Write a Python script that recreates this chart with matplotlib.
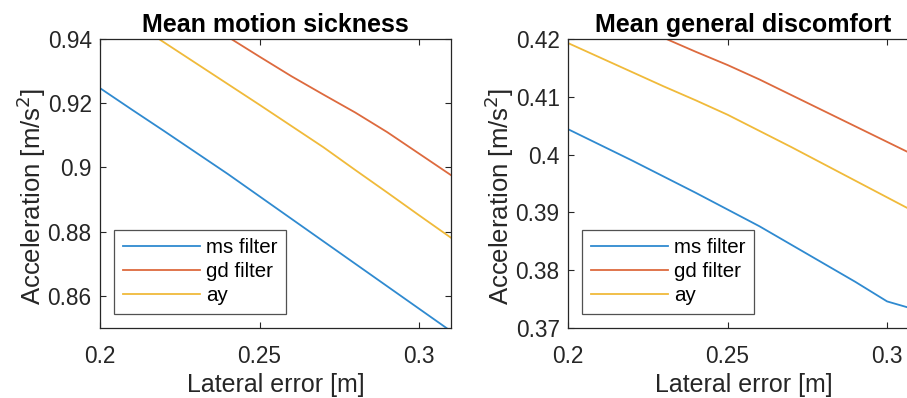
import numpy as np
import matplotlib.pyplot as plt
from matplotlib.ticker import FuncFormatter

# lateral error sample points [m]
lat_err = [0.20, 0.21, 0.22, 0.23, 0.24, 0.25, 0.26, 0.27, 0.28, 0.29, 0.30, 0.31]

# mean motion sickness panel
ms_sick = [0.9247, 0.9180, 0.9114, 0.9047, 0.8980, 0.8910, 0.8840, 0.8770, 0.8700, 0.8630, 0.8560, 0.8490]
gd_sick = [0.9650, 0.9590, 0.9530, 0.9469, 0.9407, 0.9345, 0.9284, 0.9227, 0.9171, 0.9110, 0.9043, 0.8976]
ay_sick = [0.9520, 0.9455, 0.9390, 0.9325, 0.9260, 0.9195, 0.9129, 0.9063, 0.8992, 0.8922, 0.8851, 0.8781]

# mean general discomfort panel
ms_disc = [0.4044, 0.4017, 0.3990, 0.3962, 0.3934, 0.3905, 0.3876, 0.3844, 0.3812, 0.3780, 0.3746, 0.3730]
gd_disc = [0.4272, 0.4249, 0.4226, 0.4202, 0.4178, 0.4155, 0.4130, 0.4103, 0.4076, 0.4049, 0.4022, 0.3995]
ay_disc = [0.4193, 0.4168, 0.4143, 0.4118, 0.4094, 0.4069, 0.4041, 0.4013, 0.3984, 0.3955, 0.3926, 0.3897]

series_names = ["ms filter", "gd filter", "ay"]
colors = ["#2F8AD0", "#DD6A3E", "#F0BA3A"]

x_ticks = [0.2, 0.25, 0.3]
sick_ticks = [0.86, 0.88, 0.90, 0.92, 0.94]
disc_ticks = [0.37, 0.38, 0.39, 0.40, 0.41, 0.42]

plt.rcParams["font.family"] = ["Liberation Sans", "DejaVu Sans"]
txt = "#262626"

fig = plt.figure(figsize=(9.07, 3.98), dpi=100)
W, H = 907.0, 398.0


def make_axes(left_px, title, ylim, yticks, data):
    # axes box in pixels: top 39, bottom 328, width 351
    ax = fig.add_axes([left_px / W, 1 - 328 / H, 351 / W, 289 / H])
    x = np.array(lat_err)
    for name, c, y in zip(series_names, colors, data):
        ax.plot(x, y, color=c, lw=1.3, label=name)
    ax.set_xlim(0.2, 0.31)
    ax.set_ylim(*ylim)
    ax.set_xticks(x_ticks)
    ax.set_yticks(yticks)
    fmt = FuncFormatter(lambda v, p: "%g" % round(v, 4))
    ax.xaxis.set_major_formatter(fmt)
    ax.yaxis.set_major_formatter(fmt)
    ax.tick_params(direction="in", length=4, width=0.8, colors=txt,
                   labelsize=16.3, top=True, right=True)
    ax.tick_params(axis="x", pad=12)
    ax.tick_params(axis="y", pad=6)
    for s in ax.spines.values():
        s.set_color(txt)
        s.set_linewidth(0.9)
    ax.set_title(title, fontsize=18, fontweight="bold", color="black", pad=5)
    ax.set_xlabel("Lateral error [m]", fontsize=18, color=txt, labelpad=4)
    ax.set_ylabel("Acceleration [m/s$^2$]", fontsize=18.5, color=txt)
    ax.yaxis.set_label_coords(-0.148, 0.455)
    leg = ax.legend(loc="lower left", fontsize=14.8, frameon=True, fancybox=False,
                    handlelength=3.75, handletextpad=0.3, borderpad=0.4,
                    labelspacing=0.25, borderaxespad=0.7)
    leg.get_frame().set_edgecolor(txt)
    leg.get_frame().set_linewidth(0.9)
    return ax


make_axes(100, "Mean motion sickness", (0.85, 0.94), sick_ticks,
          [ms_sick, gd_sick, ay_sick])
make_axes(568, "Mean general discomfort", (0.37, 0.42), disc_ticks,
          [ms_disc, gd_disc, ay_disc])

fig.savefig("out.png", dpi=100)
